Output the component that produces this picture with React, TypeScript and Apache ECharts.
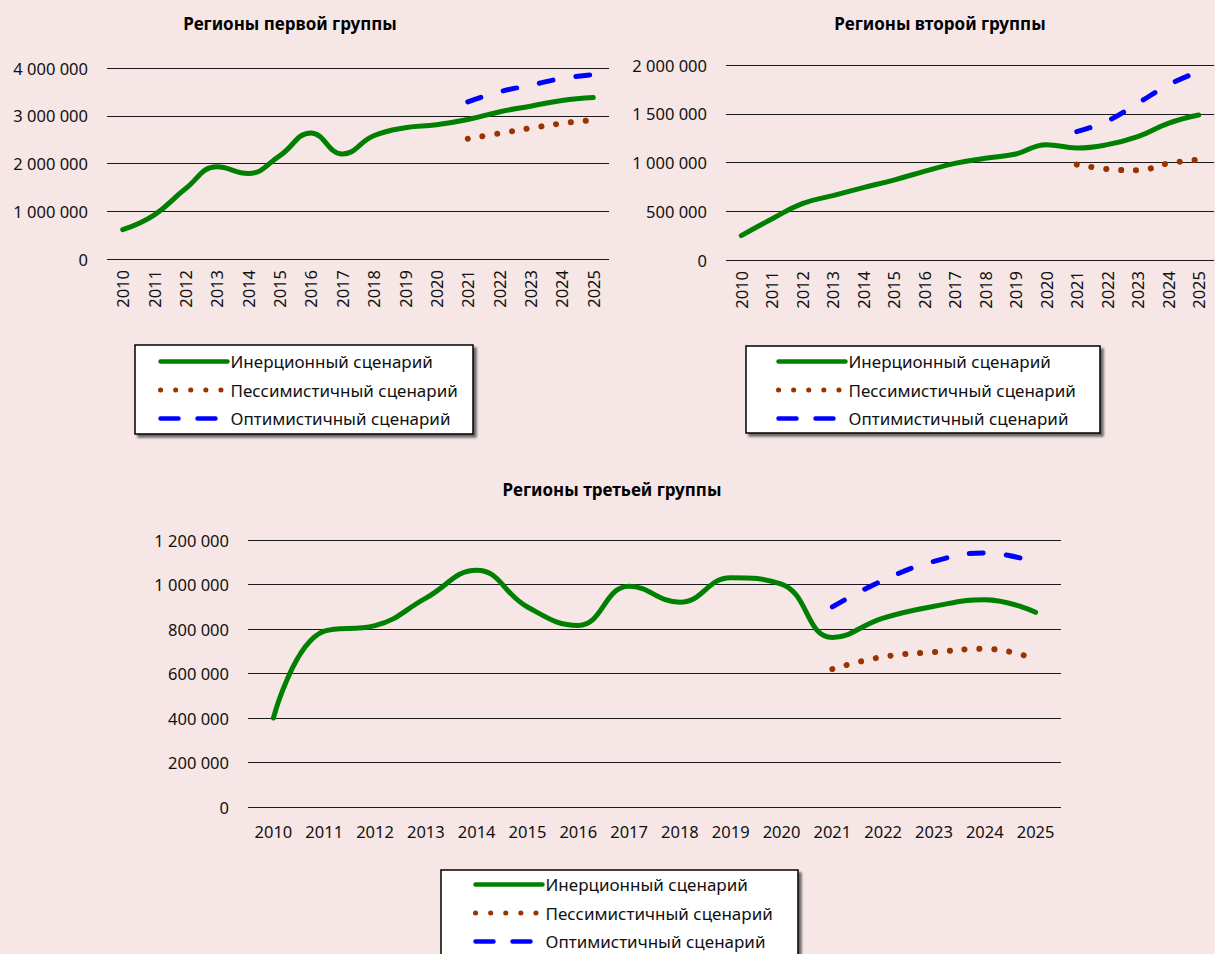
import React, { useEffect, useRef } from "react";
import * as echarts from "echarts";

const years = ["2010","2011","2012","2013","2014","2015","2016","2017","2018","2019","2020","2021","2022","2023","2024","2025"];
const names = ["Инерционный сценарий", "Пессимистичный сценарий", "Оптимистичный сценарий"];
const titles = ["Регионы первой группы", "Регионы второй группы", "Регионы третьей группы"];

const N = null;
const g1Inertial = [614000, 920000, 1470000, 1930000, 1790000, 2160000, 2640000, 2200000, 2580000, 2750000, 2810000, 2920000, 3080000, 3200000, 3320000, 3380000];
const g1Pess = [N, N, N, N, N, N, N, N, N, N, N, 2520000, 2630000, 2740000, 2840000, 2910000];
const g1Opt = [N, N, N, N, N, N, N, N, N, N, N, 3290000, 3500000, 3640000, 3780000, 3860000];

const g2Inertial = [250000, 420000, 578000, 660000, 742000, 820000, 909000, 991000, 1043000, 1087000, 1183000, 1149000, 1183000, 1265000, 1402000, 1487000];
const g2Pess = [N, N, N, N, N, N, N, N, N, N, N, 978000, 933000, 920000, 991000, 1029000];
const g2Opt = [N, N, N, N, N, N, N, N, N, N, N, 1316000, 1426000, 1607000, 1795000, 1932000];

const g3Inertial = [400000, 790000, 815000, 939000, 1064000, 899000, 816000, 992000, 920000, 1030000, 1002000, 762000, 849000, 902000, 932000, 875000];
const g3Pess = [N, N, N, N, N, N, N, N, N, N, N, 620000, 675000, 696000, 711000, 665000];
const g3Opt = [N, N, N, N, N, N, N, N, N, N, N, 899000, 1019000, 1104000, 1142000, 1100000];

const yMax = [4000000, 2000000, 1200000];
const yStep = [1000000, 500000, 200000];

const FONT = "'Noto Sans', sans-serif";
const GREEN = "#008000";
const BROWN = "#993300";
const BLUE = "#0000ff";

const fmt = (v: number) => String(v).replace(/\B(?=(\d{3})+(?!\d))/g, " ");

export default function App() {
  const ref = useRef<HTMLDivElement>(null);
  useEffect(() => {
    if (!ref.current) return;
    const chart = echarts.init(ref.current, undefined, { renderer: "svg" });

    const grids = [
      { left: 107, top: 68, width: 502, height: 191 },
      { left: 726, top: 65, width: 488, height: 195 },
      { left: 248, top: 540, width: 813, height: 267 },
    ];
    const data = [
      [g1Inertial, g1Pess, g1Opt],
      [g2Inertial, g2Pess, g2Opt],
      [g3Inertial, g3Pess, g3Opt],
    ];

    const xAxis = grids.map((_, i) => ({
      type: "category",
      gridIndex: i,
      data: years,
      boundaryGap: true,
      axisLine: { show: false },
      axisTick: { show: false },
      axisLabel: {
        rotate: i < 2 ? 90 : 0,
        margin: i < 2 ? 11 : 16,
        fontFamily: FONT,
        fontSize: 16.5,
        color: "#111",
        interval: 0,
      },
    }));
    const yAxis = grids.map((_, i) => ({
      type: "value",
      gridIndex: i,
      min: 0,
      max: yMax[i],
      interval: yStep[i],
      axisLine: { show: false },
      axisTick: { show: false },
      splitLine: { show: true, lineStyle: { color: "#1a1a1a", width: 1 } },
      axisLabel: {
        margin: 19,
        fontFamily: FONT,
        fontSize: 16.5,
        color: "#111",
        formatter: (v: number) => fmt(v),
      },
    }));

    const series: any[] = [];
    data.forEach((set, i) => {
      series.push({
        type: "line",
        name: names[0],
        xAxisIndex: i,
        yAxisIndex: i,
        data: set[0],
        smooth: 0.45,
        symbol: "none",
        lineStyle: { color: GREEN, width: 5, cap: "round" },
        itemStyle: { color: GREEN },
        z: 3,
      });
      series.push({
        type: "line",
        name: names[1],
        xAxisIndex: i,
        yAxisIndex: i,
        data: set[1],
        smooth: 0.45,
        symbol: "none",
        lineStyle: { color: BROWN, width: 6, type: [0.1, 14.8], cap: "round" },
        itemStyle: { color: BROWN },
        z: 2,
      });
      series.push({
        type: "line",
        name: names[2],
        xAxisIndex: i,
        yAxisIndex: i,
        data: set[2],
        smooth: 0.45,
        symbol: "none",
        lineStyle: { color: BLUE, width: 5, type: [14, 23], cap: "round" },
        itemStyle: { color: BLUE },
        z: 2,
      });
    });

    const legendPos = [
      { left: 158, top: 353 },
      { left: 776, top: 353 },
      { left: 473, top: 876 },
    ];
    const hidden = { opacity: 0, borderWidth: 0 };
    const legend = legendPos.map((p) => ({
      orient: "vertical",
      left: p.left,
      top: p.top,
      height: 300,
      padding: 0,
      itemWidth: 67,
      itemHeight: 14,
      itemGap: 11.5,
      selectedMode: false,
      textStyle: { fontFamily: FONT, fontSize: 17, color: "#111", padding: [0, 0, 0, -2] },
      data: [
        { name: names[0], itemStyle: hidden, lineStyle: { width: 4.5, cap: "round" } },
        { name: names[1], itemStyle: hidden, lineStyle: { width: 5, type: [0.1, 15], cap: "round" } },
        { name: names[2], itemStyle: hidden, lineStyle: { width: 4.5, type: [18, 19], cap: "round" } },
      ],
    }));

    const boxes = [
      { x: 135, y: 345, w: 338, h: 89 },
      { x: 746, y: 346, w: 354, h: 87 },
      { x: 441, y: 870, w: 357, h: 90 },
    ];
    const graphic: any[] = boxes.map((b) => ({
      type: "rect",
      shape: { x: b.x, y: b.y, width: b.w, height: b.h },
      style: {
        fill: "#ffffff",
        stroke: "#000",
        lineWidth: 1.5,
        shadowBlur: 2,
        shadowOffsetX: 3,
        shadowOffsetY: 3,
        shadowColor: "rgba(0,0,0,0.55)",
      },
      z: 0,
      silent: true,
    }));
    const titlePos = [
      { x: 290, y: 23 },
      { x: 940, y: 23 },
      { x: 612, y: 489 },
    ];
    titlePos.forEach((t, i) => {
      graphic.push({
        type: "text",
        x: t.x,
        y: t.y,
        style: {
          text: titles[i],
          font: `bold 17px ${FONT}`,
          fill: "#000",
          align: "center",
          verticalAlign: "middle",
        },
        z: 5,
      });
    });

    chart.setOption({
      animation: false,
      backgroundColor: "#f6e6e6",
      grid: grids.map((g) => ({ ...g, containLabel: false })),
      xAxis,
      yAxis,
      series,
      legend,
      graphic,
    });
    return () => chart.dispose();
  }, []);

  return (
    <div
      ref={ref}
      style={{ position: "absolute", left: 0, top: 0, width: 1215, height: 954, background: "#f6e6e6" }}
    />
  );
}
